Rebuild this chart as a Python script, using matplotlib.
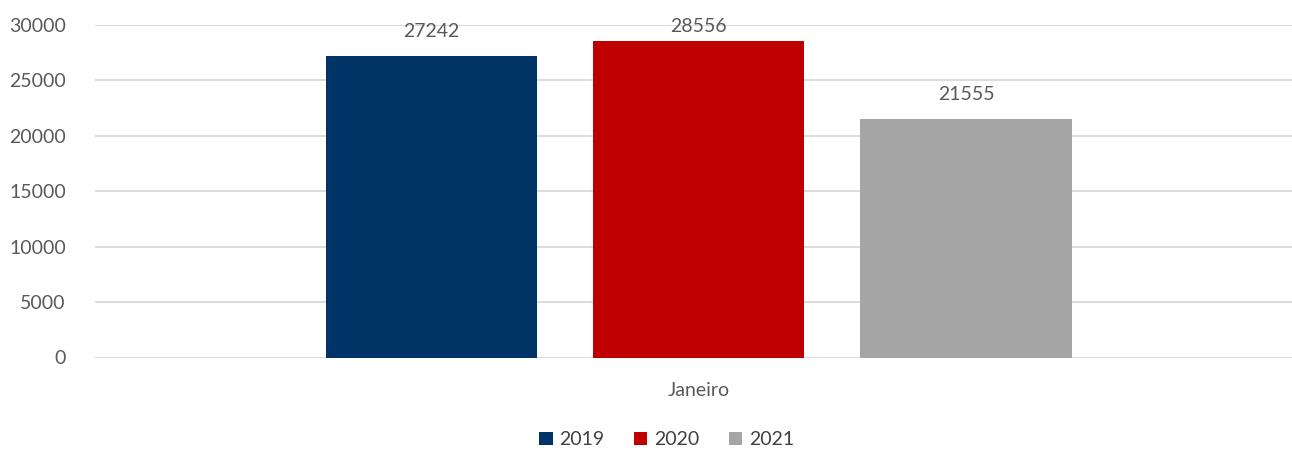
import numpy as np
import matplotlib.pyplot as plt

plt.rcParams["font.family"] = ["Lato", "DejaVu Sans"]

category = "Janeiro"
years = ["2019", "2020", "2021"]
values = [27242, 28556, 21555]
colors = ["#003366", "#C00000", "#A5A5A5"]

text_color = "#595959"


def main():
    fig = plt.figure(figsize=(12.92, 4.5), dpi=100)
    ax = fig.add_axes([95 / 1292, 92.5 / 450, 1197 / 1292, 332.5 / 450])

    pos = np.arange(len(years)) - 1
    width = 0.79
    for x, v, c, lab in zip(pos, values, colors, years):
        ax.bar(x, v, width, color=c, label=lab, zorder=2)
        ty = min(v + 2200, 29820)
        ax.text(x, ty, str(v), ha="center", va="center", fontsize=14,
                color=text_color, zorder=3)

    ax.set_xlim(-2.26, 2.22)
    ax.set_ylim(0, 30000)
    ax.set_yticks(np.arange(0, 30001, 5000))
    ax.set_xticks([0])
    ax.set_xticklabels([category])
    ax.tick_params(axis="both", length=0, labelsize=14, colors=text_color)
    ax.tick_params(axis="y", pad=21)
    ax.tick_params(axis="x", pad=18)
    ax.yaxis.grid(True, color="#D9D9D9", linewidth=1.3, zorder=0)
    ax.set_axisbelow(True)
    for s in ax.spines.values():
        s.set_visible(False)

    fig.legend(loc="lower center", bbox_to_anchor=(0.516, -0.035), ncol=3,
               frameon=False, fontsize=14, handlelength=0.7,
               handleheight=0.7, handletextpad=0.35, columnspacing=1.5,
               labelcolor="#404040")

    fig.savefig("out.png", dpi=100)


main()
